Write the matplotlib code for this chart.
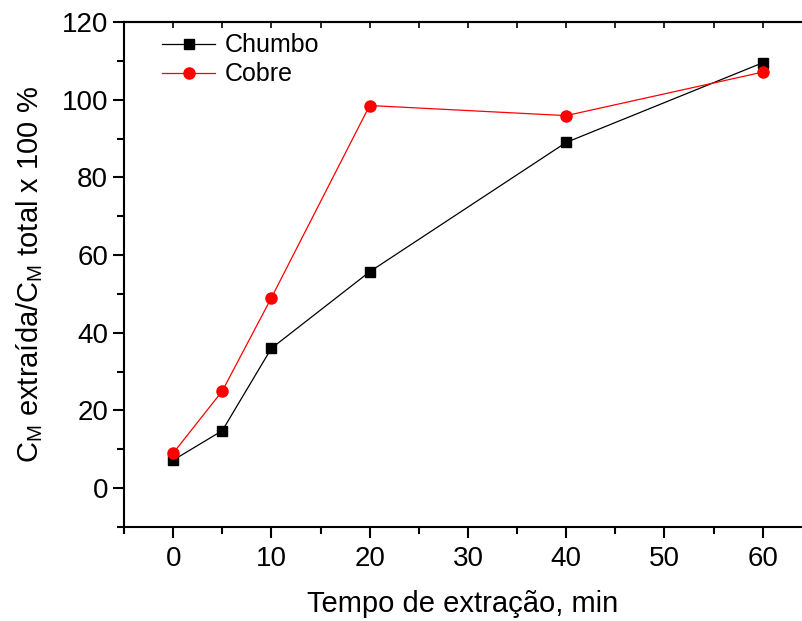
import matplotlib
matplotlib.use('Agg')
import matplotlib.pyplot as plt
from matplotlib.ticker import MultipleLocator

plt.rcParams['font.family'] = ['Liberation Sans', 'DejaVu Sans']
plt.rcParams['mathtext.fontset'] = 'custom'
plt.rcParams['mathtext.rm'] = 'Liberation Sans'
plt.rcParams['mathtext.it'] = 'Liberation Sans'

tempo = [0, 5, 10, 20, 40, 60]
chumbo = [7.2, 14.8, 36.0, 55.7, 89.0, 109.5]
cobre = [9.0, 25.0, 49.0, 98.5, 95.9, 107.1]

fig = plt.figure(figsize=(8.02, 6.21), dpi=100)
ax = fig.add_axes([124 / 802, 94 / 621, 678 / 802, 505 / 621])

ax.plot(tempo, chumbo, color='black', lw=0.9, marker='s', ms=7, label='Chumbo')
ax.plot(tempo, cobre, color='red', lw=0.9, marker='o', ms=8, label='Cobre')

ax.set_xlim(-5, 64)
ax.set_ylim(-10, 120)
ax.xaxis.set_major_locator(MultipleLocator(10))
ax.xaxis.set_minor_locator(MultipleLocator(5))
ax.yaxis.set_major_locator(MultipleLocator(20))
ax.yaxis.set_minor_locator(MultipleLocator(10))

for s in ax.spines.values():
    s.set_linewidth(1.5)
ax.spines['right'].set_visible(False)

ax.tick_params(axis='both', which='major', direction='out', length=8, width=1.5,
               labelsize=20, top=False, right=False)
ax.tick_params(axis='x', which='major', pad=6)
ax.tick_params(axis='both', which='minor', direction='out', length=5, width=1.5,
               top=False, right=False)

# ticks no eixo de cima (para dentro)
sec = ax.secondary_xaxis('top')
sec.xaxis.set_major_locator(MultipleLocator(10))
sec.xaxis.set_minor_locator(MultipleLocator(5))
sec.tick_params(which='both', direction='in', length=4, width=1.2, labeltop=False)
sec.spines['top'].set_linewidth(1.5)

ax.set_xlabel('Tempo de extração, min', fontsize=21, labelpad=13)
ax.set_ylabel('C$_{\\mathrm{M}}$ extraída/C$_{\\mathrm{M}}$ total x 100 %', fontsize=21, labelpad=12)

ax.legend(loc='upper left', bbox_to_anchor=(0.04, 1.0), frameon=False, fontsize=18,
          handlelength=2.1, handletextpad=0.4, borderaxespad=0.05, labelspacing=0.2)

fig.savefig('out.png', dpi=100)
